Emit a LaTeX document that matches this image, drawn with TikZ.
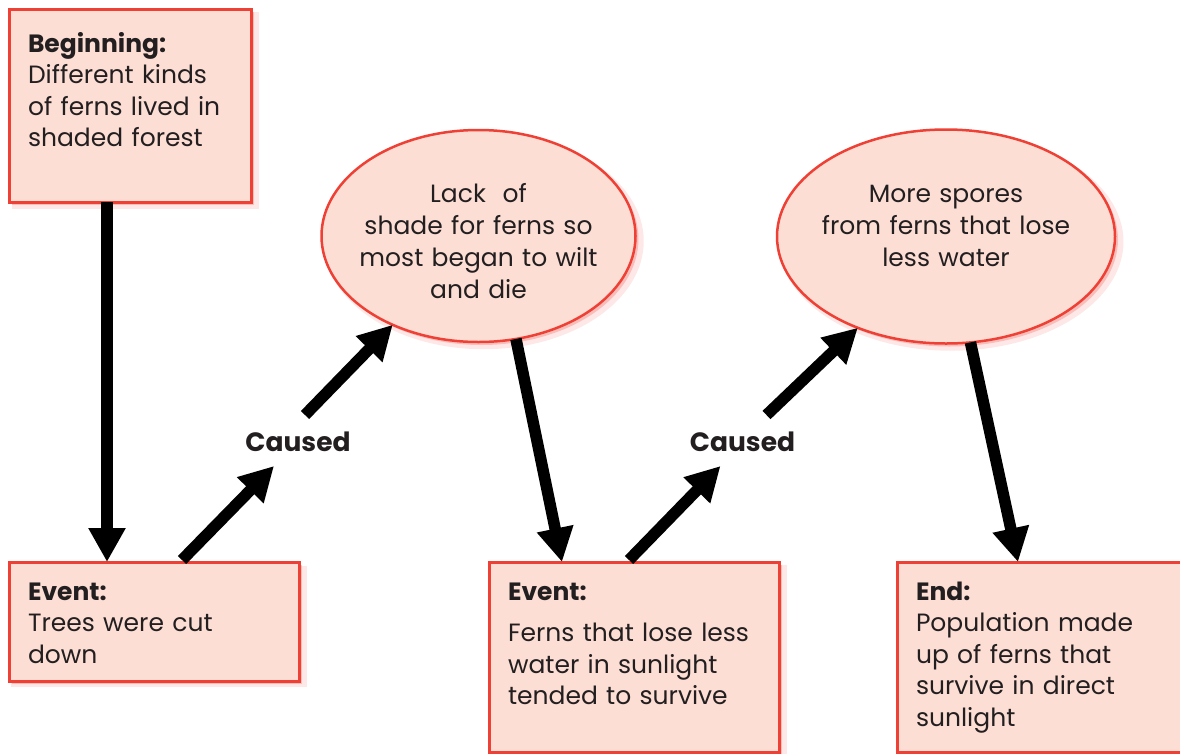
\documentclass[tikz,border=0pt]{standalone}
\usepackage{fontspec}
\setmainfont{Poppins}
\usetikzlibrary{arrows.meta,shapes.geometric,shadows}
\definecolor{boxfill}{HTML}{FCDED4}
\definecolor{boxline}{HTML}{EF4036}
\definecolor{inkgray}{HTML}{231F20}

\begin{document}
\begin{tikzpicture}[x=1pt, y=-1pt,
    glow/.style={general shadow={shadow xshift=5pt, shadow yshift=-5pt, shadow scale=1.02, fill=boxline, opacity=.12},
                 general shadow={shadow xshift=3pt, shadow yshift=-3pt, fill=boxline, opacity=.25}},
    stage/.style={glow, rectangle, draw=boxline, fill=boxfill, line width=3pt, anchor=north west,
                  inner xsep=19pt, inner ysep=0pt, outer sep=0pt, align=left, text=inkgray,
                  font=\fontsize{25}{31.5}\selectfont},
    bubble/.style={glow, ellipse, draw=boxline, fill=boxfill, line width=2.5pt, inner sep=0pt, outer sep=0pt},
    bubtext/.style={text width=330pt, align=center, anchor=base, inner sep=0pt, text=inkgray,
                    font=\fontsize{25}{32}\selectfont},
    cause/.style={inner sep=0pt, text=inkgray, font=\fontsize{26.5}{30}\selectfont\bfseries},
    push/.style={line width=11.5pt, -{Triangle[length=34pt, width=35pt]}}]
  \useasboundingbox (0,0) rectangle (1180,753);
  \node [stage, text width=204pt, text height=43pt, text depth=150pt] (beg) at (9,9)
        {\textbf{Beginning:}\\Different kinds\\of ferns lived in\\shaded forest};
  \node [stage, text width=252pt, text height=38pt, text depth=81pt] (ev1) at (9,562)
        {\textbf{Event:}\\Trees were cut\\down};
  \node [stage, text width=252pt, text height=38pt, text depth=152pt] (ev2) at (489,562)
        {\textbf{Event:}\\[10pt]Ferns that lose less\\water in sunlight\\tended to survive};
  \node [stage, text width=260pt, text height=38pt, text depth=152pt] (fin) at (897,562)
        {\textbf{End:}\\Population made\\up of ferns that\\survive in direct\\sunlight};
  \node [bubble, minimum width=314pt, minimum height=212pt] (lack) at (478.5,236) {};
  \node [bubtext] (lack-t) at (478.5,202) {Lack\ \ of\\shade for ferns so\\most began to wilt\\and die};
  \node [bubble, minimum width=338pt, minimum height=214pt] (spor) at (946,236.5) {};
  \node [bubtext] (spor-t) at (946,202) {More spores\\from ferns that lose\\less water};
  \node [cause] (cau1) at (298,442) {Caused};
  \node [cause] (cau2) at (742.5,442) {Caused};
  \draw [push] ([shift={(98,0)}]beg.south west) -- ([shift={(98,0)}]ev1.north west);
  \draw [push] ([shift={(173,-2)}]ev1.north west) -- ([shift={(-24,24)}]cau1.center);
  \draw [push] ([shift={(7,-27)}]cau1.center) -- (lack.226);
  \draw [push] (lack.290) -- ([shift={(73,0)}]ev2.north west);
  \draw [push] ([shift={(140,-2)}]ev2.north west) -- ([shift={(-22,24)}]cau2.center);
  \draw [push] ([shift={(24,-27)}]cau2.center) -- (spor.226);
  \draw [push] (spor.283) -- ([shift={(121,0)}]fin.north west);
\end{tikzpicture}
\end{document}
